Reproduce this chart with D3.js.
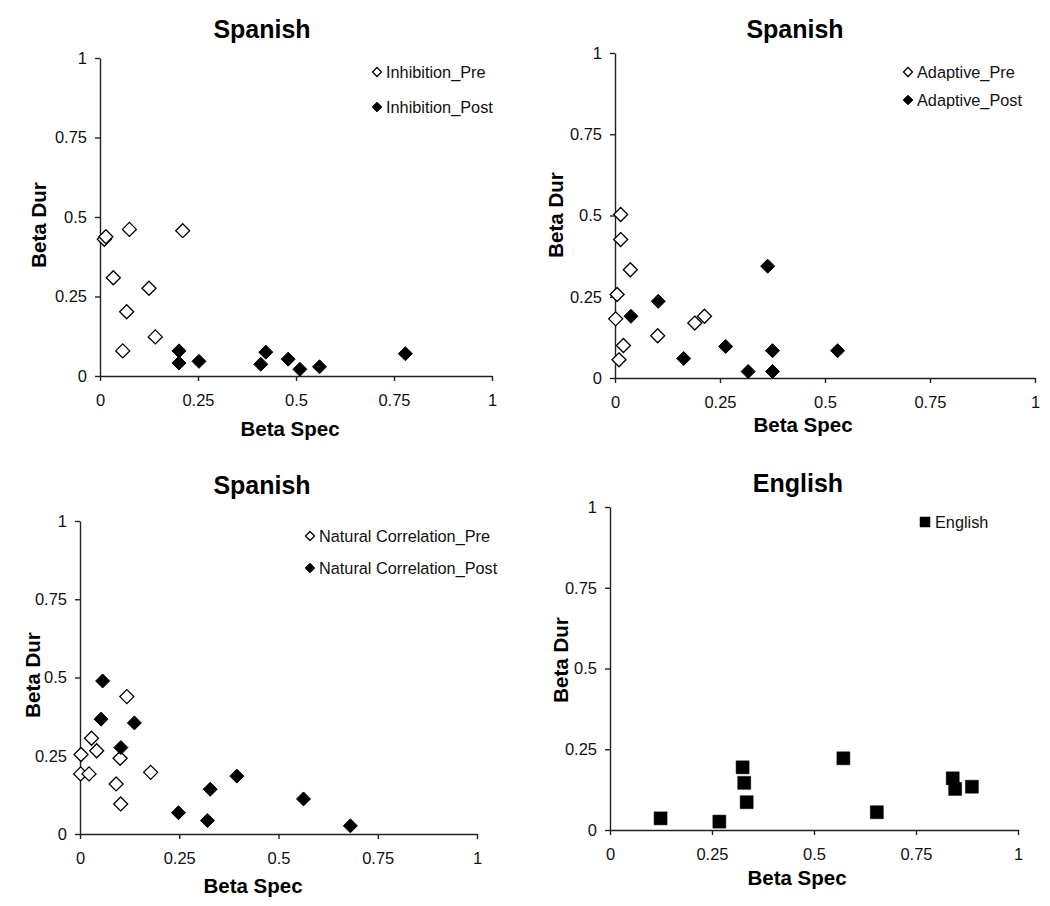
<!DOCTYPE html>
<html><head><meta charset="utf-8">
<script src="https://cdn.jsdelivr.net/npm/d3@7"></script>
<style>body{margin:0;background:#fff}svg{display:block;font-family:Arial,"Liberation Sans",sans-serif}</style>
</head><body>
<svg id="c" width="1050" height="906"></svg>
<script>
const tickValues = [0, 0.25, 0.5, 0.75, 1];
const tickLabels = ["0", "0.25", "0.5", "0.75", "1"];

const inhibitionPre = [[0.011,0.430],[0.015,0.438],[0.075,0.461],[0.211,0.457],[0.034,0.309],[0.125,0.276],[0.068,0.202],[0.141,0.123],[0.058,0.079]];
const inhibitionPost = [[0.2015,0.079],[0.2015,0.041],[0.2525,0.046],[0.410,0.037],[0.423,0.075],[0.480,0.053],[0.510,0.021],[0.560,0.029],[0.779,0.070]];
const adaptivePre = [[0.0135,0.503],[0.0135,0.426],[0.0365,0.333],[0.005,0.257],[0.0016,0.182],[0.020,0.100],[0.0095,0.056],[0.1016,0.130],[0.190,0.169],[0.213,0.190]];
const adaptivePost = [[0.038,0.190],[0.103,0.236],[0.3635,0.344],[0.1635,0.060],[0.2635,0.097],[0.317,0.020],[0.375,0.084],[0.375,0.020],[0.530,0.084]];
const naturalPre = [[0.0025,0.254],[0.0017,0.192],[0.0227,0.192],[0.029,0.306],[0.042,0.266],[0.101,0.242],[0.118,0.439],[0.091,0.160],[0.1025,0.096],[0.178,0.197]];
const naturalPost = [[0.057,0.489],[0.053,0.367],[0.137,0.355],[0.103,0.276],[0.248,0.068],[0.321,0.043],[0.328,0.143],[0.395,0.185],[0.563,0.112],[0.681,0.026]];
const englishData = [[0.124,0.036],[0.268,0.026],[0.325,0.194],[0.329,0.146],[0.335,0.086],[0.572,0.222],[0.654,0.055],[0.840,0.160],[0.846,0.127],[0.887,0.134]];

const panels = [
  {title:"Spanish", box:{x0:100,x1:492,y0:376,y1:58}, titleXY:[262,29], xlab:[290,428], ylab:[38,225],
   leg:{mx:377,tx:386,ys:[72,107]},
   series:[{name:"Inhibition_Pre",data:inhibitionPre,shape:"open"},{name:"Inhibition_Post",data:inhibitionPost,shape:"filled"}]},
  {title:"Spanish", box:{x0:615,x1:1035,y0:378,y1:53}, titleXY:[795,29], xlab:[803,424], ylab:[555,215],
   leg:{mx:908,tx:917,ys:[72,100]},
   series:[{name:"Adaptive_Pre",data:adaptivePre,shape:"open"},{name:"Adaptive_Post",data:adaptivePost,shape:"filled"}]},
  {title:"Spanish", box:{x0:80,x1:477,y0:834,y1:521}, titleXY:[262,485], xlab:[253,885], ylab:[32,675],
   leg:{mx:310,tx:319,ys:[536,568]},
   series:[{name:"Natural Correlation_Pre",data:naturalPre,shape:"open"},{name:"Natural Correlation_Post",data:naturalPost,shape:"filled"}]},
  {title:"English", box:{x0:610,x1:1018,y0:830,y1:507}, titleXY:[798,483], xlab:[797,877], ylab:[560,660],
   leg:{mx:925,tx:935,ys:[522]},
   series:[{name:"English",data:englishData,shape:"square"}]}
];

const svg = d3.select("#c");
const diamond = r => `M0,${-r}L${r},0L0,${r}L${-r},0Z`;
const square = h => `M${-h},${-h}H${h}V${h}H${-h}Z`;

function drawMarker(sel, shape, big){
  if(shape==="open"){
    sel.attr("d", diamond(big?7:4.5)).attr("fill","#fff").attr("stroke","#000").attr("stroke-width",1.3);
  } else if(shape==="filled"){
    sel.attr("d", diamond(big?7:4.8)).attr("fill","#000").attr("stroke","#000").attr("stroke-width",1);
  } else {
    sel.attr("d", square(big?6.5:5)).attr("fill","#000").attr("stroke","#000").attr("stroke-width",0.5);
  }
}

panels.forEach(p=>{
  const b = p.box;
  const x = d3.scaleLinear().domain([0,1]).range([b.x0,b.x1]);
  const y = d3.scaleLinear().domain([0,1]).range([b.y0,b.y1]);
  const g = svg.append("g");
  const fmt = d => tickLabels[tickValues.indexOf(d)];

  const xa = g.append("g").attr("transform",`translate(0,${b.y0})`)
    .call(d3.axisBottom(x).tickValues(tickValues).tickFormat(fmt).tickSize(5).tickSizeOuter(0).tickPadding(13));
  const ya = g.append("g").attr("transform",`translate(${b.x0},0)`)
    .call(d3.axisLeft(y).tickValues(tickValues).tickFormat(fmt).tickSize(5).tickSizeOuter(0).tickPadding(8));
  [xa,ya].forEach(a=>{
    a.selectAll("path,line").attr("stroke","#222").attr("stroke-width",1.4);
    a.selectAll("text").attr("font-size",16.5).attr("fill","#111").attr("font-family","Arial, 'Liberation Sans', sans-serif");
  });

  g.append("text").attr("x",p.titleXY[0]).attr("y",p.titleXY[1]).attr("text-anchor","middle")
    .attr("dominant-baseline","central").attr("font-size",25).attr("font-weight","bold").text(p.title);
  g.append("text").attr("x",p.xlab[0]).attr("y",p.xlab[1]).attr("text-anchor","middle")
    .attr("dominant-baseline","central").attr("font-size",20.5).attr("font-weight","bold").text("Beta Spec");
  g.append("text").attr("transform",`translate(${p.ylab[0]},${p.ylab[1]}) rotate(-90)`).attr("text-anchor","middle")
    .attr("dominant-baseline","central").attr("font-size",20.5).attr("font-weight","bold").text("Beta Dur");

  p.series.forEach((s,i)=>{
    g.append("g").selectAll("path").data(s.data).join("path")
      .attr("transform",d=>`translate(${x(d[0])},${y(d[1])})`)
      .call(sel=>drawMarker(sel,s.shape,true));
    const ly = p.leg.ys[i];
    g.append("path").attr("transform",`translate(${p.leg.mx},${ly})`).call(sel=>drawMarker(sel,s.shape,false));
    g.append("text").attr("x",p.leg.tx).attr("y",ly).attr("dominant-baseline","central")
      .attr("font-size",16.3).attr("fill","#111").text(s.name);
  });
});
</script>
</body></html>
